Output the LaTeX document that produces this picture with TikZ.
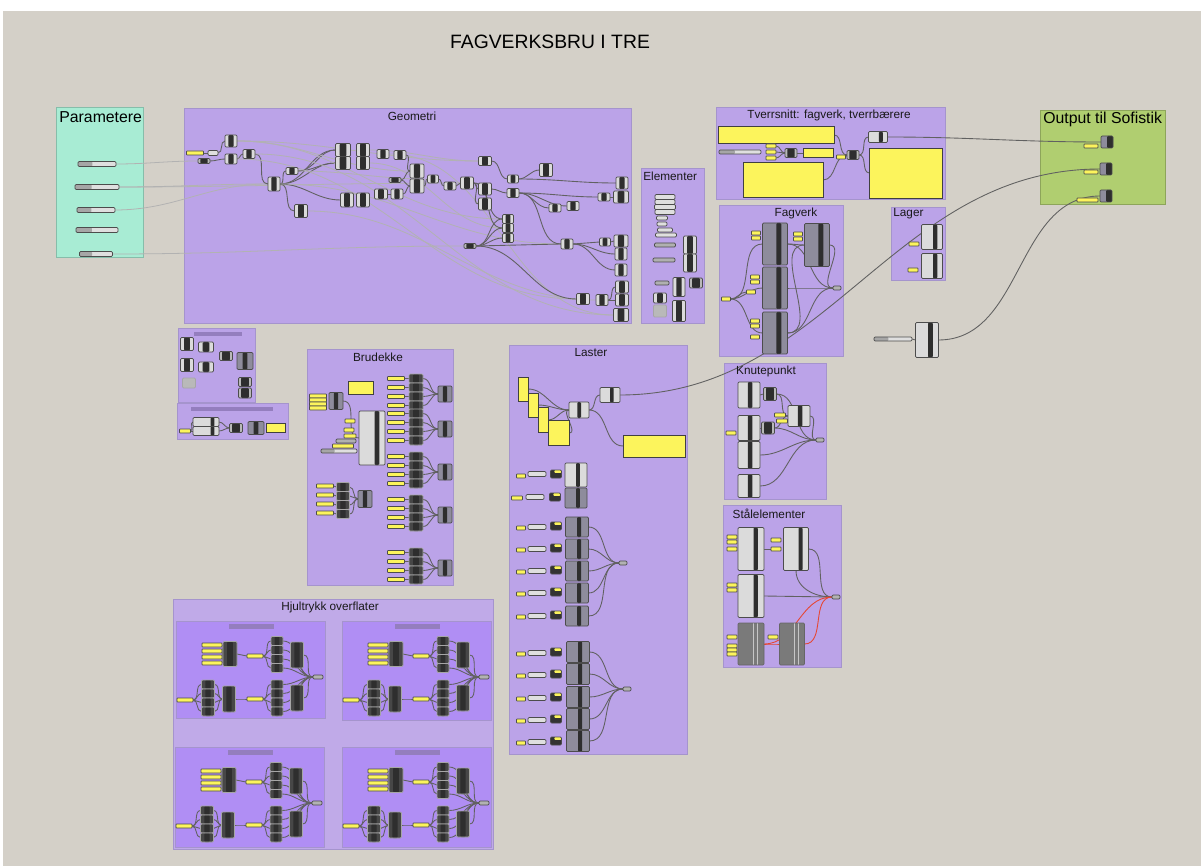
\documentclass[tikz,border=0pt]{standalone}
\usepackage{fontspec}
\setmainfont{Liberation Sans}
\usetikzlibrary{calc,positioning}
\definecolor{canvas}{RGB}{212,208,200}
\definecolor{grp}{RGB}{187,163,232}
\definecolor{grpedge}{RGB}{165,148,205}
\definecolor{subgrp}{RGB}{176,142,244}
\definecolor{outergrp}{RGB}{192,170,232}
\definecolor{prmgrp}{RGB}{168,236,212}
\definecolor{outgrp}{RGB}{176,206,112}
\definecolor{pnl}{RGB}{252,244,92}
\definecolor{bar}{RGB}{148,126,190}
\definecolor{cbody}{RGB}{142,140,156}
\definecolor{redwire}{RGB}{230,70,50}
\pgfdeclarelayer{back}
\pgfdeclarelayer{mid}
\pgfsetlayers{back,mid,main}
\tikzset{
	sz/.style 2 args={minimum width=#1*0.2mm, minimum height=#2*0.2mm},
	strip/.style 2 args={path picture={\fill[black!82] ($(path picture bounding box.south west)!#1!(path picture bounding box.south east)$) rectangle ($(path picture bounding box.north west)!#2!(path picture bounding box.north east)$);}},
	part/.style={draw=black!70, line width=0.4pt, inner sep=0pt, outer sep=0pt, rounded corners=0.6pt},
	comp/.style={part, fill=gray!28, strip={0.28}{0.72}},
	dcomp/.style={part, fill=gray!55, strip={0.2}{0.8}},
	bigc/.style={part, fill=cbody, strip={0.55}{0.75}},
	litc/.style={part, fill=gray!28, strip={0.55}{0.75}},
	stk/.style={part, fill=black!72, draw=gray!70, strip={0.3}{0.7}},
	slab/.style={part, fill=black!52, draw=black!60, path picture={\draw[gray!45, line width=0.5pt] ($(path picture bounding box.south west)!0.6!(path picture bounding box.south east)$) -- ($(path picture bounding box.north west)!0.6!(path picture bounding box.north east)$) ($(path picture bounding box.south west)!0.76!(path picture bounding box.south east)$) -- ($(path picture bounding box.north west)!0.76!(path picture bounding box.north east)$);}},
	ghost/.style={part, fill=gray!55, draw=gray!70},
	prm/.style={part, fill=gray!25},
	darkbar/.style={part, fill=gray!62},
	slider/.style={part, fill=gray!25, path picture={\fill[gray!70] (path picture bounding box.south west) rectangle ($(path picture bounding box.north west)!0.38!(path picture bounding box.north east)$);}},
	mini/.style={part, fill=black!80, sz={11}{8}, path picture={\fill[pnl] ($(path picture bounding box.north west)!0.35!(path picture bounding box.north east)$) rectangle ($(path picture bounding box.east)+(0,0.6pt)$);}},
	ylw/.style={part, fill=pnl, rounded corners=0.3pt},
	panel/.style={draw=black!75, line width=0.5pt, fill=pnl, inner sep=0pt, outer sep=0pt},
	outp/.style={part, fill=cbody, strip={0.5}{1}},
	jn/.style={part, fill=gray!60, sz={8}{4}},
	grpbox/.style={draw=grpedge, line width=0.6pt, fill=grp, inner sep=0pt, anchor=north west},
	gtitle/.style={font=\fontsize{6.7}{8}\selectfont, text=black!90, inner sep=0pt},
	tbar/.style={fill=bar, inner sep=0pt},
	wire/.style={draw=black!62, line width=0.5pt},
	faint/.style={draw=black!30, line width=0.45pt},
	hot/.style={draw=redwire, line width=0.5pt}
}
\begin{document}
\begin{tikzpicture}[x=0.2mm, y=-0.2mm]
\useasboundingbox (0,0) rectangle (1201,866);
\begin{pgfonlayer}{back}
	\fill[white] (0,0) rectangle (1201,866);
	\fill[canvas] (3,11) rectangle (1201,866);
	\node[grpbox, fill=prmgrp, draw=prmgrp!80!black, sz={87}{150}] (parametere) at (56,107) {};
	\node[grpbox, sz={447}{215}] (geometri) at (184,108) {};
	\node[grpbox, sz={63}{155}] (elementer) at (641,168) {};
	\node[grpbox, sz={229}{92}] (tverrsnitt) at (716,107) {};
	\node[grpbox, fill=outgrp, draw=outgrp!80!black, sz={125}{94}] (output) at (1040,110) {};
	\node[grpbox, sz={124}{151}] (fagverk) at (719,205) {};
	\node[grpbox, sz={54}{73}] (lager) at (891,207) {};
	\node[grpbox, sz={77}{74}] (smalla) at (178,328) {};
	\node[grpbox, sz={111}{36}] (smallb) at (177,403) {};
	\node[grpbox, sz={146}{236}] (brudekke) at (307,349) {};
	\node[grpbox, sz={178}{409}] (laster) at (509,345) {};
	\node[grpbox, sz={102}{136}] (knutepunkt) at (724,363) {};
	\node[grpbox, sz={118}{162}] (staal) at (723,505) {};
	\node[grpbox, fill=outergrp, sz={320}{250}] (hjultrykk) at (173,599) {};
\end{pgfonlayer}

\node[font=\fontsize{11}{13}\selectfont, inner sep=0pt] (titel) at (550,42) {FAGVERKSBRU I TRE};
\node[font=\fontsize{9}{11}\selectfont, anchor=west, inner sep=0pt] (tparam) at (59,117) {Parametere};
\node[font=\fontsize{9}{11}\selectfont, anchor=west, inner sep=0pt] (toutput) at (1043,119) {Output til Sofistik};
\node[gtitle] (tgeometri) at (412,116) {Geometri};
\node[gtitle, anchor=west] (telementer) at (643,176) {Elementer};
\node[gtitle] (ttverrsnitt) at (829,115) {Tverrsnitt: fagverk, tverrbærere};
\node[gtitle] (tfagverk) at (796,213) {Fagverk};
\node[gtitle, anchor=west] (tlager) at (893,214) {Lager};
\node[gtitle] (tbrudekke) at (378,357) {Brudekke};
\node[gtitle] (tlaster) at (591,353) {Laster};
\node[gtitle] (tknute) at (766,371) {Knutepunkt};
\node[gtitle] (tstaal) at (769,514) {Stålelementer};
\node[gtitle] (thjul) at (330,607) {Hjultrykk overflater};

% parametere
\foreach \x/\y/\w [count=\i] in {97/164/38, 97/187/44, 96/210/38, 97/230/42, 96/254/33}
	\node[slider, sz={\w}{5}] (p\i) at (\x,\y) {};

% geometri
\node[ylw, sz={17}{4}] (gp1) at (195,153) {};
\node[prm, sz={10}{5}] (gs1) at (213,153) {};
\foreach \n/\x/\y/\w/\h in {g1/231/141/12/12, g2/231/159/12/10, g4/249/154/12/9, g5/274/184/12/14,
	g6/292/171/12/7, g7/301/211/13/13, g8/343/150/15/13, g9/343/163/15/13, g10/363/150/13/13,
	g11/363/163/13/13, g12/383/154/12/9, g13/400/155/12/9, g14/417/171/14/14, g15/417/186/14/14,
	g17/381/194/13/10, g18/397/194/12/10, g19/347/200/13/14, g20/363/200/13/14, g21/433/179/11/8,
	g22/450/186/12/8, g23/467/183/13/12, g24/485/161/13/9, g25/485/189/13/12, g26/485/204/13/12,
	g27/513/179/11/8, g28/513/193/12/9, g29/546/170/13/13, g30/508/219/11/9, g31/508/228/11/9,
	g32/508/238/11/9, g34/555/208/12/8, g35/573/206/12/9, g36/567/244/12/10, g37/605/242/11/8,
	g38/621/241/14/12, g39/621/254/12/12, g40/621/270/12/12, g41/583/299/13/11, g42/602/300/12/11,
	g43/622/287/13/12, g44/622/300/13/12, g45/621/315/15/13, g46/622/183/12/12, g47/621/197/15/12,
	g48/604/197/12/8}
	\node[comp, sz={\w}{\h}] (\n) at (\x,\y) {};
\foreach \n/\x/\y in {g3/204/161, g16/395/180, g33/470/246}
	\node[dcomp, sz={12}{5}] (\n) at (\x,\y) {};

\begin{pgfonlayer}{mid}
	\draw[faint] (p1.east) to[out=0,in=180] (g3.west);
	\draw[faint] (p2.east) to[out=0,in=180] (g5.west);
	\draw[faint] (p2.east) to[out=0,in=180] (g23.west);
	\draw[faint] (p3.east) to[out=0,in=180] (g5.west);
	\draw[faint] (p5.east) to[out=0,in=180] (g33.west);
	\draw[wire] (gp1.east) -- (gs1.west);
	\draw[wire] (gs1.east) to[out=0,in=180] (g1.west);
	\draw[wire] (g3.east) to[out=0,in=180] (g2.west);
	\draw[wire] (g2.east) to[out=0,in=180] (g4.west);
	\draw[wire] (g4.east) to[out=0,in=180] (g5.west);
	\draw[wire] (g5.east) to[out=0,in=180] (g6.west);
	\draw[wire] (g5.east) to[out=0,in=180] (g7.west);
	\draw[wire] (g6.east) to[out=0,in=180] (g8.west);
	\draw[wire] (g6.east) to[out=0,in=180] (g9.west);
	\draw[wire] (g5.east) to[out=0,in=180] (g8.west);
	\draw[wire] (g5.east) to[out=0,in=180] (g9.west);
	\draw[wire] (g5.east) to[out=0,in=180] (g19.west);
	\draw[faint] (g1.east) to[out=0,in=180] (g14.west);
	\draw[faint] (g1.east) to[out=0,in=180] (g24.west);
	\draw[faint] (g1.east) to[out=0,in=180] (g30.west);
	\draw[faint] (g2.east) to[out=0,in=180] (g41.west);
	\draw[faint] (g4.east) to[out=0,in=180] (g45.west);
	\draw[faint] (g5.east) to[out=0,in=180] (g36.west);
	\draw[faint] (g7.east) to[out=0,in=180] (g42.west);
	\draw[faint] (g6.east) to[out=0,in=180] (g21.west);
	\draw[faint] (g11.east) to[out=0,in=180] (g31.west);
	\draw[faint] (g12.east) to[out=0,in=180] (g45.west);
	\draw[faint] (g10.east) to[out=0,in=180] (g24.west);
	\draw[wire] (g13.east) to[out=0,in=180] (g14.west);
	\draw[wire] (g16.east) to[out=0,in=180] (g14.west);
	\draw[wire] (g16.east) to[out=0,in=180] (g15.west);
	\draw[wire] (g18.east) to[out=0,in=180] (g15.west);
	\draw[wire] (g17.east) -- (g18.west);
	\draw[wire] (g15.east) to[out=0,in=180] (g21.west);
	\draw[wire] (g21.east) to[out=0,in=180] (g22.west);
	\draw[wire] (g22.east) to[out=0,in=180] (g23.west);
	\draw[wire] (g23.east) to[out=0,in=180] (g25.west);
	\draw[wire] (g23.east) to[out=0,in=180] (g26.west);
	\draw[wire] (g23.east) to[out=0,in=180] (g30.west);
	\draw[wire] (g23.east) to[out=0,in=180] (g31.west);
	\draw[wire] (g24.east) to[out=0,in=180] (g27.west);
	\draw[wire] (g25.east) to[out=0,in=180] (g28.west);
	\draw[wire] (g27.east) to[out=0,in=180] (g29.west);
	\draw[wire] (g27.east) to[out=0,in=180] (g46.west);
	\draw[wire] (g28.east) to[out=0,in=180] (g48.west);
	\draw[wire] (g48.east) -- (g47.west);
	\draw[wire] (g28.east) to[out=0,in=180] (g34.west);
	\draw[wire] (g28.east) to[out=0,in=180] (g35.west);
	\draw[wire] (g28.east) to[out=0,in=180] (g36.west);
	\draw[wire] (g33.east) -- (g36.west);
	\draw[wire] (g33.east) to[out=0,in=180] (g30.west);
	\draw[wire] (g33.east) to[out=0,in=180] (g31.west);
	\draw[wire] (g33.east) to[out=0,in=180] (g32.west);
	\draw[wire] (g33.east) to[out=0,in=180] (g41.west);
	\draw[wire] (g36.east) -- (g37.west);
	\draw[wire] (g37.east) -- (g38.west);
	\draw[wire] (g36.east) to[out=0,in=180] (g39.west);
	\draw[wire] (g36.east) to[out=0,in=180] (g40.west);
	\draw[wire] (g42.east) to[out=0,in=180] (g43.west);
	\draw[wire] (g42.east) to[out=0,in=180] (g44.west);
\end{pgfonlayer}

% elementer
\foreach \n/\x/\y/\w/\h in {e1/665/197/20/5, e2/665/202/20/5, e3/665/207/21/5, e4/665/212/20/5,
	e5/662/218/11/4, e6/662/224/10/4, e7/665/230/15/4, e8/666/235/21/4}
	\node[prm, sz={\w}{\h}] (\n) at (\x,\y) {};
\node[darkbar, sz={21}{4}] (ed1) at (665,245) {};
\node[darkbar, sz={22}{4}] (ed2) at (664,260) {};
\node[darkbar, sz={14}{4}] (ed3) at (662,283) {};
\node[comp, sz={13}{18}] (ec1) at (690,245) {};
\node[comp, sz={13}{18}] (ec2) at (690,263) {};
\node[comp, sz={12}{19}] (ec3) at (679,287) {};
\node[dcomp, sz={13}{10}] (ec4) at (696,283) {};
\node[comp, sz={13}{10}] (ec5) at (660,298) {};
\node[ghost, sz={13}{12}] (ec6) at (660,311) {};
\node[comp, sz={13}{21}] (ec7) at (679,311) {};

% tverrsnitt
\node[panel, sz={116}{17}] (tp1) at (776,135) {};
\node[panel, sz={80}{35}] (tp2) at (783,180) {};
\node[panel, sz={73}{50}] (tp3) at (906,173) {};
\node[panel, sz={30}{9}] (tp4) at (818,153) {};
\node[slider, sz={42}{4}] (ts1) at (740,152) {};
\foreach \y [count=\i] in {146,152,158}
	\node[ylw, sz={10}{4}] (ty\i) at (771,\y) {};
\node[dcomp, sz={12}{9}] (tc1) at (791,153) {};
\node[ylw, sz={9}{4}] (ty4) at (841,157) {};
\node[dcomp, sz={12}{9}] (tc2) at (853,155) {};
\node[litc, sz={19}{11}] (tc3) at (878,137) {};

% output
\foreach \x/\y/\yy/\w [count=\i] in {1107/142/146/14, 1106/169/172/14, 1106/196/200/21} {
	\node[outp, sz={12}{12}] (o\i) at (\x,\y) {};
	\node[ylw, sz={\w}{4}, anchor=east] (oy\i) at (1098,\yy) {};
}

% fagverk
\node[bigc, sz={25}{42}] (fc1) at (775,244) {};
\node[bigc, sz={25}{43}] (fc5) at (817,245) {};
\node[bigc, sz={25}{42}] (fc2) at (775,288) {};
\node[bigc, sz={25}{42}] (fc3) at (775,333) {};
\foreach \x/\y [count=\i] in {756/233, 756/238, 798/234, 798/239, 755/277, 755/282, 751/292, 726/299, 755/321, 755/326, 755/337}
	\node[ylw, sz={9}{4}] (fy\i) at (\x,\y) {};
\node[jn] (fj) at (837,288) {};

% lager
\node[litc, sz={21}{25}] (la1) at (932,237) {};
\node[litc, sz={21}{25}] (la2) at (932,266) {};
\node[ylw, sz={10}{4}] (lay1) at (914,244) {};
\node[ylw, sz={10}{4}] (lay2) at (913,270) {};
\node[litc, sz={23}{35}] (loose) at (927,340) {};
\node[slider, sz={38}{4}] (looseslider) at (893,339) {};

% small groups
\node[tbar, sz={48}{4}] (bara) at (218,334) {};
\node[tbar, sz={82}{4}] (barb) at (232,409) {};
\node[comp, sz={13}{13}] (m1) at (187,344) {};
\node[comp, sz={15}{10}] (m2) at (206,347) {};
\node[dcomp, sz={13}{9}] (m3) at (226,356) {};
\node[bigc, strip={0.35}{0.65}, sz={16}{17}] (m4) at (245,361) {};
\node[comp, sz={13}{13}] (m5) at (187,365) {};
\node[comp, sz={15}{10}] (m6) at (206,367) {};
\node[ghost, sz={13}{10}] (m7) at (189,383) {};
\node[dcomp, sz={13}{9}] (m8) at (245,382) {};
\node[dcomp, sz={13}{10}] (m9) at (245,393) {};
\node[ylw, sz={11}{4}] (ny) at (185,431) {};
\node[litc, strip={0.68}{0.82}, sz={26}{9}] (n1) at (206,422) {};
\node[litc, strip={0.68}{0.82}, sz={26}{9}] (n2) at (206,431) {};
\node[dcomp, sz={13}{9}] (n3) at (236,428) {};
\node[bigc, strip={0.35}{0.65}, sz={16}{13}] (n4) at (256,428) {};
\node[panel, sz={19}{9}] (n5) at (276,428) {};

% brudekke
\foreach \y [count=\i] in {396,400,404,408}
	\node[ylw, sz={17}{4}] (bq\i) at (318,\y) {};
\node[bigc, strip={0.35}{0.65}, sz={14}{17}] (bc1) at (336,401) {};
\node[panel, sz={25}{13}] (bp) at (361,388) {};
\node[litc, strip={0.6}{0.78}, sz={26}{54}] (bbig) at (372,438) {};
\node[ylw, sz={10}{4}] (bz1) at (350,421) {};
\node[ylw, sz={10}{4}] (bz2) at (349,430) {};
\node[ylw, sz={12}{4}] (bz3) at (350,436) {};
\node[darkbar, sz={20}{4}] (bd1) at (346,441) {};
\node[ylw, sz={21}{4}] (bz4) at (343,446) {};
\node[slider, sz={36}{4}] (bsl) at (339,451) {};
\foreach \y [count=\i] in {486,495,504,513} {
	\node[ylw, sz={17}{4}] (bly\i) at (325,\y) {};
	\node[stk, sz={13}{9}] (bls\i) at (343,\y+1) {};
}
\node[bigc, strip={0.35}{0.65}, sz={14}{17}] (blo) at (365,499) {};
\foreach \cy [count=\c] in {392,427,470,513,566} {
	\foreach \dy [count=\r] in {-13.5,-4.5,4.5,13.5} {
		\node[ylw, sz={17}{4}] (by\c\r) at (396,\cy+\dy) {};
		\node[stk, sz={14}{9}] (bs\c\r) at (416,\cy+\dy) {};
	}
	\node[bigc, strip={0.35}{0.65}, sz={14}{16}] (bo\c) at (445,\cy+2) {};
	\begin{pgfonlayer}{mid}
		\foreach \r in {1,...,4} {
			\draw[wire] (by\c\r.east) -- (bs\c\r.west);
			\draw[wire] (bs\c\r.east) to[out=0,in=180] (bo\c.west);
		}
	\end{pgfonlayer}
}

% laster
\node[panel, sz={10}{24}] (lq1) at (523,389) {};
\node[panel, sz={10}{24}] (lq2) at (533,405) {};
\node[panel, sz={10}{25}] (lq3) at (543,420) {};
\node[panel, sz={21}{25}] (lq4) at (559,433) {};
\node[litc, strip={0.42}{0.6}, sz={20}{16}] (lc1) at (579,410) {};
\node[litc, strip={0.5}{0.68}, sz={20}{15}] (lc2) at (610,395) {};
\node[panel, sz={62}{22}] (lp) at (654,446) {};
\node[ylw, sz={9}{4}] (lry1) at (521,476) {};
\node[prm, sz={18}{5}] (lrs1) at (537,474) {};
\node[mini] (lrm1) at (556,474) {};
\node[litc, strip={0.5}{0.68}, sz={22}{24}] (lrc1) at (576,475) {};
\node[ylw, sz={11}{4}] (lry2) at (517,498) {};
\node[prm, sz={18}{5}] (lrs2) at (535,497) {};
\node[mini] (lrm2) at (555,497) {};
\node[bigc, strip={0.5}{0.68}, sz={22}{20}] (lrc2) at (576,498) {};
\foreach \y [count=\i] in {528,550,572,594,617} {
	\node[ylw, sz={9}{4}] (lay\i) at (521,\y) {};
	\node[prm, sz={18}{5}] (las\i) at (537,\y-1) {};
	\node[mini] (lam\i) at (556,\y-2) {};
	\node[bigc, strip={0.5}{0.68}, sz={23}{20}] (lac\i) at (577,\y-1) {};
}
\node[jn] (laj) at (623,563) {};
\foreach \y [count=\i] in {654,676,699,721,743} {
	\node[ylw, sz={9}{4}] (lby\i) at (521,\y) {};
	\node[prm, sz={18}{5}] (lbs\i) at (537,\y-1) {};
	\node[mini] (lbm\i) at (556,\y-2) {};
	\node[bigc, strip={0.5}{0.68}, sz={23}{21}] (lbc\i) at (578,\y-2) {};
}
\node[jn] (lbj) at (627,689) {};

% knutepunkt
\node[litc, strip={0.45}{0.65}, sz={22}{26}] (k1) at (749,395) {};
\node[litc, strip={0.45}{0.65}, sz={22}{25}] (k2) at (749,428) {};
\node[litc, strip={0.45}{0.65}, sz={22}{27}] (k3) at (749,455) {};
\node[litc, strip={0.45}{0.65}, sz={22}{23}] (k4) at (749,486) {};
\node[dcomp, sz={13}{13}] (kd1) at (770,394) {};
\node[dcomp, sz={13}{12}] (kd2) at (768,428) {};
\node[ylw, sz={11}{4}] (ky1) at (780,415) {};
\node[ylw, sz={11}{4}] (ky2) at (782,421) {};
\node[ylw, sz={10}{4}] (ky3) at (731,433) {};
\node[litc, strip={0.45}{0.65}, sz={22}{21}] (kc) at (799,416) {};
\node[jn] (kj) at (820,440) {};

% staalelementer
\node[litc, strip={0.6}{0.76}, sz={26}{43}] (s1) at (751,549) {};
\node[litc, strip={0.6}{0.76}, sz={25}{43}] (s2) at (796,549) {};
\node[litc, strip={0.6}{0.76}, sz={26}{43}] (s3) at (751,596) {};
\node[slab, sz={26}{42}] (s4) at (751,644) {};
\node[slab, sz={25}{42}] (s5) at (792,644) {};
\foreach \x/\y [count=\i] in {732/537, 732/542, 732/549, 776/540, 776/549, 732/585, 732/590, 732/637, 732/646, 732/650, 732/654, 773/637}
	\node[ylw, sz={10}{4}] (sy\i) at (\x,\y) {};
\node[jn] (sj) at (836,597) {};

% hjultrykk
\foreach \sx/\sy/\sh/\n in {176/621/97/a, 342/621/99/b, 175/747/100/c, 342/747/100/d} {
	\begin{scope}[shift={(\sx,\sy)}]
		\begin{pgfonlayer}{back}
			\node[grpbox, fill=subgrp, sz={149}{\sh}] (h\n) at (0,0) {};
		\end{pgfonlayer}
		\node[tbar, sz={45}{5}] (h\n bar) at (75,5) {};
		\foreach \y [count=\i] in {24,30,36,42}
			\node[ylw, sz={20}{4}] (h\n y\i) at (36,\y) {};
		\node[stk, sz={14}{25}] (h\n c1) at (54,33) {};
		\node[ylw, sz={16}{4}] (h\n y5) at (79,35) {};
		\node[stk, sz={13}{26}] (h\n c2) at (121,34) {};
		\node[ylw, sz={16}{4}] (h\n y6) at (9,79) {};
		\node[stk, sz={13}{26}] (h\n c3) at (53,78) {};
		\node[ylw, sz={16}{4}] (h\n y7) at (79,78) {};
		\node[stk, sz={13}{26}] (h\n c4) at (121,77) {};
		\foreach \y [count=\i] in {20,29,38,47} {
			\node[stk, sz={12}{9}] (h\n s\i) at (101,\y) {};
			\node[stk, sz={13}{9}] (h\n t\i) at (32,\y+43.5) {};
			\node[stk, sz={12}{9}] (h\n u\i) at (101,\y+43.5) {};
		}
		\node[jn, sz={10}{4}] (h\n j) at (142,56) {};
		\begin{pgfonlayer}{mid}
			\foreach \i in {1,...,4} {
				\draw[wire] (h\n y\i.east) to[out=0,in=180] (h\n c1.west);
				\draw[wire] (h\n y5.east) to[out=0,in=180] (h\n s\i.west);
				\draw[wire] (h\n s\i.east) to[out=0,in=180] (h\n j.west);
				\draw[wire] (h\n y6.east) to[out=0,in=180] (h\n t\i.west);
				\draw[wire] (h\n t\i.east) to[out=0,in=180] (h\n c3.west);
				\draw[wire] (h\n y7.east) to[out=0,in=180] (h\n u\i.west);
				\draw[wire] (h\n u\i.east) to[out=0,in=180] (h\n j.west);
			}
			\draw[wire] (h\n c1.east) to[out=0,in=180] (h\n y5.west);
			\draw[wire] (h\n c3.east) to[out=0,in=180] (h\n y7.west);
			\draw[wire] (h\n c2.east) to[out=0,in=180] (h\n j.west);
			\draw[wire] (h\n c4.east) to[out=0,in=180] (h\n j.west);
		\end{pgfonlayer}
	\end{scope}
}

\begin{pgfonlayer}{mid}
	\foreach \i in {1,2,3}
		\draw[wire] (ty\i.east) to[out=0,in=180] (tc1.west);
	\draw[wire] (tc1.east) -- (tp4.west);
	\draw[wire] (tp1.east) to[out=0,in=180] (tc2.west);
	\draw[wire] (tp2.east) to[out=0,in=180] (tc2.west);
	\draw[wire] (ty4.east) -- (tc2.west);
	\draw[wire] (tc2.east) to[out=0,in=180] (tc3.west);
	\draw[wire] (tc2.east) to[out=0,in=180] (tp3.west);
	\draw[wire] (tc3.east) to[out=0,in=180] (o1.west);
	\draw[wire] (lc2.east) to[out=0,in=180] (o2.west);
	\draw[wire] (loose.east) to[out=0,in=180] (o3.west);
	\draw[wire] (looseslider.east) -- (loose.west);
	\draw[wire] (fy8.east) to[out=0,in=180] (fc1.west);
	\draw[wire] (fy8.east) to[out=0,in=180] (fy7.west);
	\draw[wire] (fy8.east) to[out=0,in=180] (fc2.west);
	\draw[wire] (fy8.east) to[out=0,in=180] (fc3.west);
	\draw[wire] (fc1.east) to[out=0,in=180] (fc5.west);
	\draw[wire] (fc1.east) to[out=0,in=180] (fj.west);
	\draw[wire] (fc5.east) to[out=0,in=180] (fj.west);
	\draw[wire] (fc2.east) to[out=0,in=180] (fj.west);
	\draw[wire] (fc3.east) to[out=0,in=180] (fj.west);
	\draw[wire] (fc3.east) to[out=0,in=180] (fc5.west);
	\draw[wire] (ny.east) to[out=0,in=180] (n1.west);
	\draw[wire] (ny.east) to[out=0,in=180] (n2.west);
	\draw[wire] (n1.east) to[out=0,in=180] (n3.west);
	\draw[wire] (n2.east) to[out=0,in=180] (n3.west);
	\draw[wire] (bc1.east) to[out=0,in=180] (bbig.west);
	\foreach \i in {1,...,4} {
		\draw[wire] (bly\i.east) -- (bls\i.west);
		\draw[wire] (bls\i.east) to[out=0,in=180] (blo.west);
		\draw[wire] (lq\i.east) to[out=0,in=180] (lc1.west);
	}
	\draw[wire] (lc1.east) to[out=0,in=180] (lc2.west);
	\draw[wire] (lc1.east) to[out=0,in=180] (lp.west);
	\foreach \i in {1,...,5} {
		\draw[wire] (lac\i.east) to[out=0,in=180] (laj.west);
		\draw[wire] (lbc\i.east) to[out=0,in=180] (lbj.west);
	}
	\draw[wire] (k1.east) -- (kd1.west);
	\draw[wire] (kd1.east) to[out=0,in=180] (kc.west);
	\draw[wire] (kd1.east) to[out=0,in=180] (kj.west);
	\draw[wire] (k2.east) -- (kd2.west);
	\draw[wire] (kd2.east) to[out=0,in=180] (kc.west);
	\draw[wire] (kd2.east) to[out=0,in=180] (kj.west);
	\draw[wire] (k3.east) to[out=0,in=180] (kj.west);
	\draw[wire] (k4.east) to[out=0,in=180] (kj.west);
	\draw[wire] (kc.east) to[out=0,in=180] (kj.west);
	\draw[wire] (s1.east) to[out=0,in=180] (sy5.west);
	\draw[wire] (s2.east) to[out=0,in=180] (sj.west);
	\draw[wire] (s2.south) to[out=-90,in=180] (sj.west);
	\draw[wire] (s3.east) -- (sj.west);
	\draw[hot] (s4.east) to[out=0,in=180] (s5.west);
	\draw[hot] (s4.east) to[out=0,in=180] (sj.west);
	\draw[hot] (s5.east) to[out=0,in=180] (sj.west);
\end{pgfonlayer}
\end{tikzpicture}
\end{document}
